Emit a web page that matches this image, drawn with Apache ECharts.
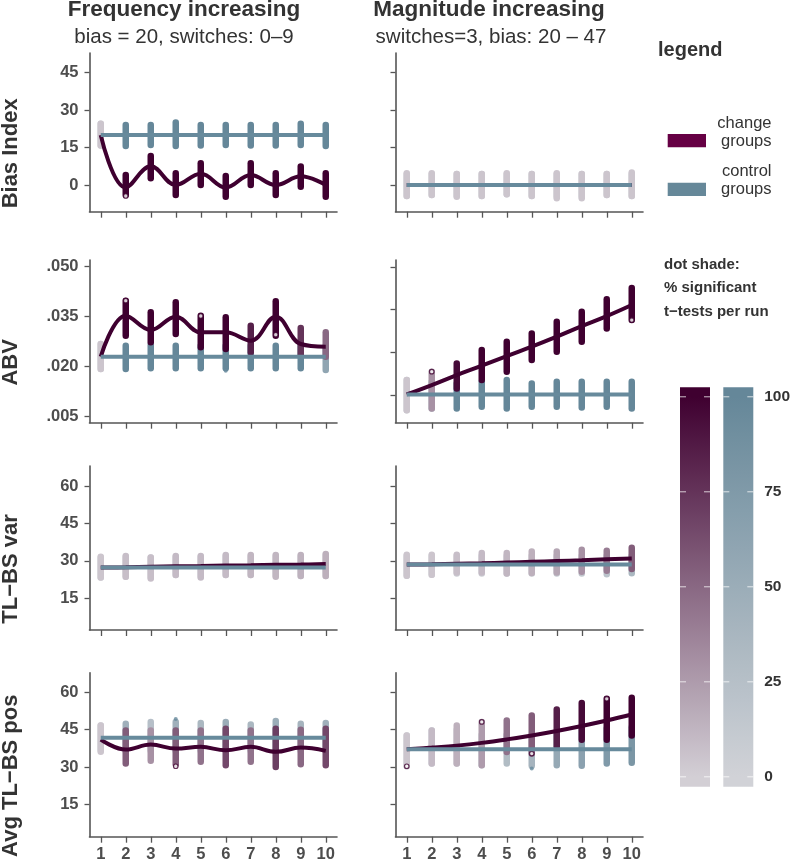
<!DOCTYPE html>
<html><head><meta charset="utf-8">
<script src="https://cdn.jsdelivr.net/npm/echarts@6/dist/echarts.min.js"></script>
<style>html,body{margin:0;padding:0;background:#fff}#c{width:793px;height:864px}</style>
</head><body><div id="c"></div>
<script>
// ---------- labels ----------
const xValues = [1, 2, 3, 4, 5, 6, 7, 8, 9, 10];
const rowNames = ['Bias Index', 'ABV', 'TL\u2212BS var', 'Avg TL\u2212BS pos'];
const colTitles = ['Frequency increasing', 'Magnitude increasing'];
const colSubtitles = ['bias = 20, switches: 0\u20139', 'switches=3, bias: 20 \u2013 47'];
const legendTitle = 'legend';
const legendItems = [['change', 'groups'], ['control', 'groups']];
const shadeTitle = ['dot shade:', '% significant', 't\u2212tests per run'];
const biasTicks = [0, 15, 30, 45];
const abvTicksFreq = [0.005, 0.020, 0.035, 0.050];
const abvTicksMag = [0.020, 0.035, 0.050, 0.065];
const tlTicks = [15, 30, 45, 60];
const shadeTicks = [0, 25, 50, 75, 100];

// ---------- Frequency increasing: Bias Index ----------
const freqBiasChangeLine = [20, -1, 7.5, 0, 4.5, -1, 4, 0, 3.5, 0];
const freqBiasControlLine = [20, 20, 20, 20, 20, 20, 20, 20, 20, 20];
const freqBiasChangeLo = [15.8, -4, 2.7, -4, 0, -4.7, 0, -4, -0.7, -4.7];
const freqBiasChangeHi = [24.5, 4, 11.6, 4.7, 8.7, 3.6, 8.7, 4.7, 7.4, 4.7];
const freqBiasChangeShade = [5, 100, 100, 100, 100, 100, 100, 100, 100, 100];
const freqBiasControlLo = [15.8, 15.6, 16, 15.6, 15.8, 16, 15.8, 15.8, 16, 15.6];
const freqBiasControlHi = [24.5, 24, 24, 25, 24, 24, 24, 24, 24.5, 24];
const freqBiasControlShade = [5, 100, 100, 100, 100, 100, 100, 100, 100, 100];
const freqBiasChangeOpen = [[2, -4.4]];
const freqBiasControlOut = [];

// ---------- Magnitude increasing: Bias Index ----------
const magBiasChangeLine = [0, 0, 0, 0, 0, 0, 0, 0, 0, 0];
const magBiasControlLine = [0, 0, 0, 0, 0, 0, 0, 0, 0, 0];
const magBiasChangeLo = [-4.4, -4, -4.7, -4.4, -3.7, -4.4, -5.3, -5.3, -4, -4.4];
const magBiasChangeHi = [4.7, 4.7, 4.4, 4.4, 4.7, 4.4, 4.7, 4.4, 4.4, 5];
const magBiasChangeShade = [5, 5, 5, 5, 5, 5, 5, 5, 5, 5];
const magBiasControlLo = [-4.4, -4, -4.4, -4.4, -3.7, -4.4, -4.7, -4.7, -4, -4.4];
const magBiasControlHi = [4.4, 4.4, 4.4, 4.4, 4.4, 4.4, 4.4, 4.4, 4.4, 4.4];
const magBiasControlShade = [5, 5, 5, 5, 5, 5, 5, 5, 5, 5];
const magBiasChangeOpen = [];
const magBiasControlOut = [];

// ---------- Frequency increasing: ABV ----------
const freqAbvChangeLine = [0.023, 0.0353, 0.031, 0.035, 0.0303, 0.0303, 0.0278, 0.035, 0.0268, 0.026];
const freqAbvControlLine = [0.023, 0.023, 0.023, 0.023, 0.023, 0.023, 0.023, 0.023, 0.023, 0.023];
const freqAbvChangeLo = [0.0193, 0.0293, 0.0273, 0.0298, 0.0258, 0.0253, 0.0243, 0.0293, 0.0235, 0.023];
const freqAbvChangeHi = [0.0268, 0.0398, 0.0363, 0.0393, 0.0353, 0.0348, 0.0323, 0.0396, 0.0316, 0.0303];
const freqAbvChangeShade = [5, 100, 100, 100, 100, 100, 85, 100, 75, 50];
const freqAbvControlLo = [0.0193, 0.0193, 0.0195, 0.0195, 0.0195, 0.0195, 0.0195, 0.0195, 0.0195, 0.019];
const freqAbvControlHi = [0.0268, 0.0263, 0.0265, 0.0263, 0.0263, 0.0263, 0.0263, 0.0263, 0.0263, 0.0263];
const freqAbvControlShade = [5, 100, 100, 100, 100, 100, 100, 100, 100, 60];
const freqAbvChangeOpen = [[2, 0.0398], [5, 0.0352], [8, 0.0296]];
const freqAbvControlOut = [[6, 0.0188]];

// ---------- Magnitude increasing: ABV ----------
const magAbvChangeLine = [0.0202, 0.0235, 0.027, 0.0303, 0.0337, 0.037, 0.0405, 0.0442, 0.0477, 0.0516];
const magAbvControlLine = [0.0202, 0.0202, 0.0202, 0.0202, 0.0202, 0.0202, 0.0202, 0.0202, 0.0202, 0.0202];
const magAbvChangeLo = [0.0147, 0.0153, 0.0223, 0.0253, 0.0282, 0.0323, 0.0352, 0.0387, 0.0434, 0.0463];
const magAbvChangeHi = [0.0253, 0.0282, 0.0311, 0.0358, 0.0387, 0.0416, 0.0457, 0.0492, 0.0536, 0.0576];
const magAbvChangeShade = [5, 30, 95, 100, 100, 100, 100, 100, 100, 100];
const magAbvControlLo = [0.0147, 0.0153, 0.0153, 0.0159, 0.0153, 0.0159, 0.0159, 0.0156, 0.0159, 0.0153];
const magAbvControlHi = [0.0253, 0.0247, 0.0241, 0.0247, 0.0253, 0.0241, 0.0247, 0.0247, 0.0247, 0.0247];
const magAbvControlShade = [5, 40, 100, 100, 100, 100, 100, 100, 100, 100];
const magAbvChangeOpen = [[2, 0.0282], [10, 0.0463]];
const magAbvControlOut = [];

// ---------- Frequency increasing: TL-BS var ----------
const freqVarChangeLine = [27.3, 27.4, 27.6, 27.8, 27.9, 28.1, 28.2, 28.4, 28.5, 28.7];
const freqVarControlLine = [27.3, 27.3, 27.3, 27.3, 27.3, 27.3, 27.3, 27.3, 27.3, 27.3];
const freqVarChangeLo = [23.3, 23.6, 22.9, 24.3, 23.3, 24.3, 24.3, 23.6, 23.9, 23.9];
const freqVarChangeHi = [31.6, 31.9, 31.3, 31.9, 31.9, 32.3, 32.3, 32.3, 32.3, 32.7];
const freqVarChangeShade = [5, 8, 8, 10, 10, 10, 12, 12, 14, 15];
const freqVarControlLo = [23.3, 23.6, 23.3, 24.3, 23.6, 24.3, 24.3, 23.9, 23.9, 23.9];
const freqVarControlHi = [31.3, 31.6, 31.3, 31.6, 31.6, 31.9, 31.9, 31.9, 31.9, 32.3];
const freqVarControlShade = [5, 5, 5, 5, 5, 5, 5, 5, 5, 5];
const freqVarChangeOpen = [];
const freqVarControlOut = [];

// ---------- Magnitude increasing: TL-BS var ----------
const magVarChangeLine = [28.5, 28.6, 28.8, 29.0, 29.3, 29.6, 29.9, 30.2, 30.6, 30.9];
const magVarControlLine = [28.5, 28.5, 28.5, 28.5, 28.5, 28.5, 28.5, 28.5, 28.5, 28.5];
const magVarChangeLo = [24.0, 24.4, 25.3, 25.3, 24.9, 25.1, 25.3, 25.6, 26.0, 26.7];
const magVarChangeHi = [32.4, 32.4, 32.4, 33.1, 33.1, 33.7, 33.7, 34.4, 34.0, 35.3];
const magVarChangeShade = [5, 5, 8, 10, 12, 15, 20, 30, 40, 55];
const magVarControlLo = [24.0, 24.4, 24.9, 24.9, 24.9, 24.9, 24.9, 24.9, 24.6, 25.0];
const magVarControlHi = [32.0, 32.0, 32.0, 32.0, 32.0, 32.0, 32.0, 32.0, 32.0, 32.0];
const magVarControlShade = [5, 5, 5, 5, 8, 10, 12, 15, 20, 35];
const magVarChangeOpen = [];
const magVarControlOut = [];

// ---------- Frequency increasing: Avg TL-BS pos ----------
const freqPosChangeLine = [41, 37, 39, 37.4, 38.1, 36.7, 38.1, 36.1, 37.8, 36.5];
const freqPosControlLine = [41.8, 41.8, 41.8, 41.8, 41.8, 41.8, 41.8, 41.8, 41.8, 41.8];
const freqPosChangeLo = [36.1, 31.4, 32.5, 31.1, 32.1, 30.7, 32.1, 30.0, 31.1, 30.7];
const freqPosChangeHi = [46.7, 44.7, 44.7, 44.7, 44.7, 45.4, 44.7, 45.4, 45.0, 45.4];
const freqPosChangeShade = [5, 55, 30, 55, 45, 65, 45, 70, 50, 65];
const freqPosControlLo = [36.5, 36.5, 36.5, 36.5, 36.5, 36.5, 36.5, 36.5, 36.5, 36.5];
const freqPosControlHi = [46.7, 47.4, 48.1, 48.1, 47.7, 48.1, 47.1, 48.5, 47.4, 47.7];
const freqPosControlShade = [5, 45, 25, 45, 35, 50, 35, 50, 40, 45];
const freqPosChangeOpen = [[4, 30.3]];
const freqPosControlOut = [[4, 49.3]];

// ---------- Magnitude increasing: Avg TL-BS pos ----------
const magPosChangeLine = [37.1, 37.8, 38.6, 39.7, 41.1, 42.7, 44.5, 46.5, 48.7, 51.1];
const magPosControlLine = [37.1, 37.1, 37.1, 37.1, 37.1, 37.1, 37.1, 37.1, 37.1, 37.1];
const magPosChangeLo = [30.3, 31.4, 31.4, 30.7, 36.0, 35.4, 38.3, 41.0, 41.0, 42.7];
const magPosChangeHi = [42.7, 44.7, 46.7, 48.1, 48.7, 50.7, 53.1, 55.7, 57.4, 57.8];
const magPosChangeShade = [5, 10, 15, 25, 45, 55, 85, 95, 100, 100];
const magPosControlLo = [30.3, 31.4, 31.4, 30.7, 31.4, 30.5, 30.7, 30.5, 31.4, 31.7];
const magPosControlHi = [42.7, 44.7, 45.0, 43.0, 43.0, 43.0, 44.0, 45.5, 45.5, 46.0];
const magPosControlShade = [5, 8, 10, 20, 30, 40, 55, 65, 75, 80];
const magPosChangeOpen = [[1, 30.3], [4, 48.1], [6, 35.4], [9, 57.4]];
const magPosControlOut = [[6, 29.4]];

// ---------- styling / layout (not data) ----------
const FONT = '"Liberation Sans", Arial, Helvetica, sans-serif';
const AXIS_COLOR = '#555555';
const LABEL_COLOR = '#4d4d4d';
const TEXT_COLOR = '#333333';
const CHANGE_LINE = '#3f0030';
const CONTROL_LINE = '#678a9c';
const LOW = { change: [211, 207, 213], control: [209, 210, 215] };
const HIGH = { change: [63, 0, 48], control: [101, 135, 153] };
function shadeColor(group, s) {
  const t = Math.max(0, Math.min(1, s / 100));
  const a = LOW[group], b = HIGH[group];
  const c = a.map((v, i) => Math.round(v + (b[i] - v) * t));
  return 'rgb(' + c.join(',') + ')';
}

const colLeft = [89.5, 395.5];
const colWidth = 247.5;
const rowTop = [53, 260, 466, 672.7];
const rowHeight = [158.7, 162.7, 164, 164];
const fmtInt = v => String(Math.round(v));
const fmtAbv = v => v.toFixed(3).replace(/^0/, '');

const panels = [
  { row: 0, col: 0, min: -10.7, max: 52.9, ticks: biasTicks, fmt: fmtInt,
    cl: freqBiasChangeLine, ol: freqBiasControlLine, clo: freqBiasChangeLo, chi: freqBiasChangeHi, cs: freqBiasChangeShade,
    olo: freqBiasControlLo, ohi: freqBiasControlHi, os: freqBiasControlShade, cOpen: freqBiasChangeOpen, oOut: freqBiasControlOut },
  { row: 0, col: 1, min: -10.7, max: 52.9, ticks: biasTicks, fmt: fmtInt,
    cl: magBiasChangeLine, ol: magBiasControlLine, clo: magBiasChangeLo, chi: magBiasChangeHi, cs: magBiasChangeShade,
    olo: magBiasControlLo, ohi: magBiasControlHi, os: magBiasControlShade, cOpen: magBiasChangeOpen, oOut: magBiasControlOut },
  { row: 1, col: 0, min: 0.0032, max: 0.0520, ticks: abvTicksFreq, fmt: fmtAbv,
    cl: freqAbvChangeLine, ol: freqAbvControlLine, clo: freqAbvChangeLo, chi: freqAbvChangeHi, cs: freqAbvChangeShade,
    olo: freqAbvControlLo, ohi: freqAbvControlHi, os: freqAbvControlShade, cOpen: freqAbvChangeOpen, oOut: freqAbvControlOut },
  { row: 1, col: 1, min: 0.0103, max: 0.0674, ticks: abvTicksMag, fmt: fmtAbv,
    cl: magAbvChangeLine, ol: magAbvControlLine, clo: magAbvChangeLo, chi: magAbvChangeHi, cs: magAbvChangeShade,
    olo: magAbvControlLo, ohi: magAbvControlHi, os: magAbvControlShade, cOpen: magAbvChangeOpen, oOut: magAbvControlOut },
  { row: 2, col: 0, min: 2.3, max: 68.0, ticks: tlTicks, fmt: fmtInt,
    cl: freqVarChangeLine, ol: freqVarControlLine, clo: freqVarChangeLo, chi: freqVarChangeHi, cs: freqVarChangeShade,
    olo: freqVarControlLo, ohi: freqVarControlHi, os: freqVarControlShade, cOpen: freqVarChangeOpen, oOut: freqVarControlOut },
  { row: 2, col: 1, min: 2.3, max: 68.0, ticks: tlTicks, fmt: fmtInt,
    cl: magVarChangeLine, ol: magVarControlLine, clo: magVarChangeLo, chi: magVarChangeHi, cs: magVarChangeShade,
    olo: magVarControlLo, ohi: magVarControlHi, os: magVarControlShade, cOpen: magVarChangeOpen, oOut: magVarControlOut },
  { row: 3, col: 0, min: 2.0, max: 67.9, ticks: tlTicks, fmt: fmtInt,
    cl: freqPosChangeLine, ol: freqPosControlLine, clo: freqPosChangeLo, chi: freqPosChangeHi, cs: freqPosChangeShade,
    olo: freqPosControlLo, ohi: freqPosControlHi, os: freqPosControlShade, cOpen: freqPosChangeOpen, oOut: freqPosControlOut },
  { row: 3, col: 1, min: 2.0, max: 67.9, ticks: tlTicks, fmt: fmtInt,
    cl: magPosChangeLine, ol: magPosControlLine, clo: magPosChangeLo, chi: magPosChangeHi, cs: magPosChangeShade,
    olo: magPosControlLo, ohi: magPosControlHi, os: magPosControlShade, cOpen: magPosChangeOpen, oOut: magPosControlOut }
];

function stripRender(group) {
  return function (params, api) {
    const x = api.value(0);
    const p1 = api.coord([x, api.value(1)]);
    const p2 = api.coord([x, api.value(2)]);
    return {
      type: 'line',
      shape: { x1: p1[0], y1: p1[1], x2: p2[0], y2: p2[1] },
      style: { stroke: shadeColor(group, api.value(3)), lineWidth: 6.5, lineCap: 'round' }
    };
  };
}

const grids = [], xAxes = [], yAxes = [], series = [];
panels.forEach((p, i) => {
  grids.push({ left: colLeft[p.col], top: rowTop[p.row], width: colWidth, height: rowHeight[p.row], containLabel: false });
  xAxes.push({
    gridIndex: i, type: 'value', min: 0.55, max: 10.45,
    axisLine: { show: true, onZero: false, lineStyle: { color: AXIS_COLOR, width: 1.6 } },
    axisTick: { show: true, customValues: xValues, length: 6, lineStyle: { color: AXIS_COLOR, width: 1.3 } },
    axisLabel: { show: p.row === 3, customValues: xValues, margin: 9, fontFamily: FONT, fontWeight: 'bold', fontSize: 16.5, color: LABEL_COLOR },
    splitLine: { show: false }
  });
  yAxes.push({
    gridIndex: i, type: 'value', min: p.min, max: p.max,
    axisLine: { show: true, onZero: false, lineStyle: { color: AXIS_COLOR, width: 1.6 } },
    axisTick: { show: true, customValues: p.ticks, length: 5, lineStyle: { color: AXIS_COLOR, width: 1.3 } },
    axisLabel: { show: p.col === 0, customValues: p.ticks, formatter: p.fmt, margin: 11, fontFamily: FONT, fontWeight: 'bold', fontSize: 16.5, color: LABEL_COLOR },
    splitLine: { show: false }
  });
  const mk = (lo, hi, sh) => xValues.map((x, j) => [x, lo[j], hi[j], sh[j]]);
  series.push({
    type: 'custom', xAxisIndex: i, yAxisIndex: i, renderItem: stripRender('control'),
    encode: { x: 0, y: [1, 2] }, data: mk(p.olo, p.ohi, p.os), silent: true
  });
  series.push({
    type: 'custom', xAxisIndex: i, yAxisIndex: i, renderItem: stripRender('change'),
    encode: { x: 0, y: [1, 2] }, data: mk(p.clo, p.chi, p.cs), silent: true
  });
  series.push({
    type: 'scatter', xAxisIndex: i, yAxisIndex: i, data: p.oOut, symbolSize: 4,
    itemStyle: { color: CONTROL_LINE }, silent: true
  });
  series.push({
    type: 'scatter', xAxisIndex: i, yAxisIndex: i, data: p.cOpen, symbolSize: 4.5,
    itemStyle: { color: '#ffffff', borderColor: CHANGE_LINE, borderWidth: 1.2 }, silent: true
  });
  series.push({
    type: 'line', xAxisIndex: i, yAxisIndex: i, data: xValues.map((x, j) => [x, p.cl[j]]),
    smooth: 0.4, symbol: 'none', lineStyle: { color: CHANGE_LINE, width: 4 }, silent: true
  });
  series.push({
    type: 'line', xAxisIndex: i, yAxisIndex: i, data: xValues.map((x, j) => [x, p.ol[j]]),
    symbol: 'none', lineStyle: { color: CONTROL_LINE, width: 4 }, silent: true
  });
});

// ---------- colour bar (shade scale) ----------
const cbIndex = panels.length;
grids.push({ left: 680, top: 387.3, width: 73.3, height: 399.4 });
xAxes.push({ gridIndex: cbIndex, type: 'value', min: 0, max: 1, show: false });
yAxes.push({
  gridIndex: cbIndex, type: 'value', min: -2.6, max: 102.5, position: 'right',
  axisLine: { show: false }, axisTick: { show: false }, splitLine: { show: false },
  axisLabel: { show: true, customValues: shadeTicks, margin: 12, fontFamily: FONT, fontWeight: 'bold', fontSize: 15.5, color: TEXT_COLOR }
});
const shadeGroups = ['change', 'control'];
series.push({
  type: 'custom', xAxisIndex: cbIndex, yAxisIndex: cbIndex, silent: true,
  data: shadeGroups.map((g, i) => [i]),
  renderItem: function (params, api) {
    const cs = params.coordSys;
    const g = shadeGroups[params.dataIndex];
    const bw = 30, gap = 13.3;
    const bx = cs.x + params.dataIndex * (bw + gap);
    const yTop = api.coord([0, 100])[1];
    const yBot = api.coord([0, 0])[1];
    const stops = [];
    for (let k = 0; k <= 10; k++) {
      stops.push({ offset: k / 10, color: shadeColor(g, 100 - k * 10) });
    }
    const children = [{
      type: 'rect', shape: { x: bx, y: cs.y, width: bw, height: cs.height },
      style: { fill: new echarts.graphic.LinearGradient(0, yTop, 0, yBot, stops, true) }
    }];
    shadeTicks.forEach(v => {
      const y = api.coord([0, v])[1];
      children.push({ type: 'line', shape: { x1: bx, y1: y, x2: bx + 6, y2: y }, style: { stroke: 'rgba(255,255,255,0.75)', lineWidth: 1 } });
      children.push({ type: 'line', shape: { x1: bx + bw - 6, y1: y, x2: bx + bw, y2: y }, style: { stroke: 'rgba(255,255,255,0.75)', lineWidth: 1 } });
    });
    return { type: 'group', children: children };
  }
});

// ---------- text & legend ----------
const graphic = [];
const txt = (x, y, text, font, align, extra) => Object.assign({
  type: 'text', x: x, y: y, silent: true,
  style: { text: text, font: font, fill: TEXT_COLOR, align: align || 'center', verticalAlign: 'middle' }
}, extra || {});
const titleX = [184, 489];
colTitles.forEach((t, i) => graphic.push(txt(titleX[i], 10, t, 'bold 22.5px ' + FONT)));
colSubtitles.forEach((t, i) => graphic.push(txt(titleX[i] + (i ? 2 : 0), 37.5, t, '20.5px ' + FONT)));
const nameOffset = 21;
rowNames.forEach((t, r) => graphic.push(txt(11, rowTop[r] + rowHeight[r] / 2 + nameOffset, t, 'bold 22px ' + FONT, 'center', { rotation: Math.PI / 2 })));
graphic.push(txt(658, 50, legendTitle, 'bold 20px ' + FONT, 'left'));
const legendColors = ['#660044', '#668899'];
const legendRectY = [134, 182.7];
const legendTextY = [[123, 141], [171, 189.5]];
legendItems.forEach((lines, i) => {
  graphic.push({ type: 'rect', silent: true, shape: { x: 667.7, y: legendRectY[i], width: 38.3, height: 13.3 }, style: { fill: legendColors[i] } });
  lines.forEach((l, k) => graphic.push(txt(771.5, legendTextY[i][k], l, '16.5px ' + FONT, 'right')));
});
const shadeY = [265, 288.3, 311.7];
shadeTitle.forEach((t, k) => graphic.push(txt(664, shadeY[k], t, 'bold 15px ' + FONT, 'left')));

const chart = echarts.init(document.getElementById('c'), null, { renderer: 'canvas' });
chart.setOption({
  animation: false,
  backgroundColor: '#ffffff',
  grid: grids, xAxis: xAxes, yAxis: yAxes, series: series, graphic: graphic
});
</script></body></html>
